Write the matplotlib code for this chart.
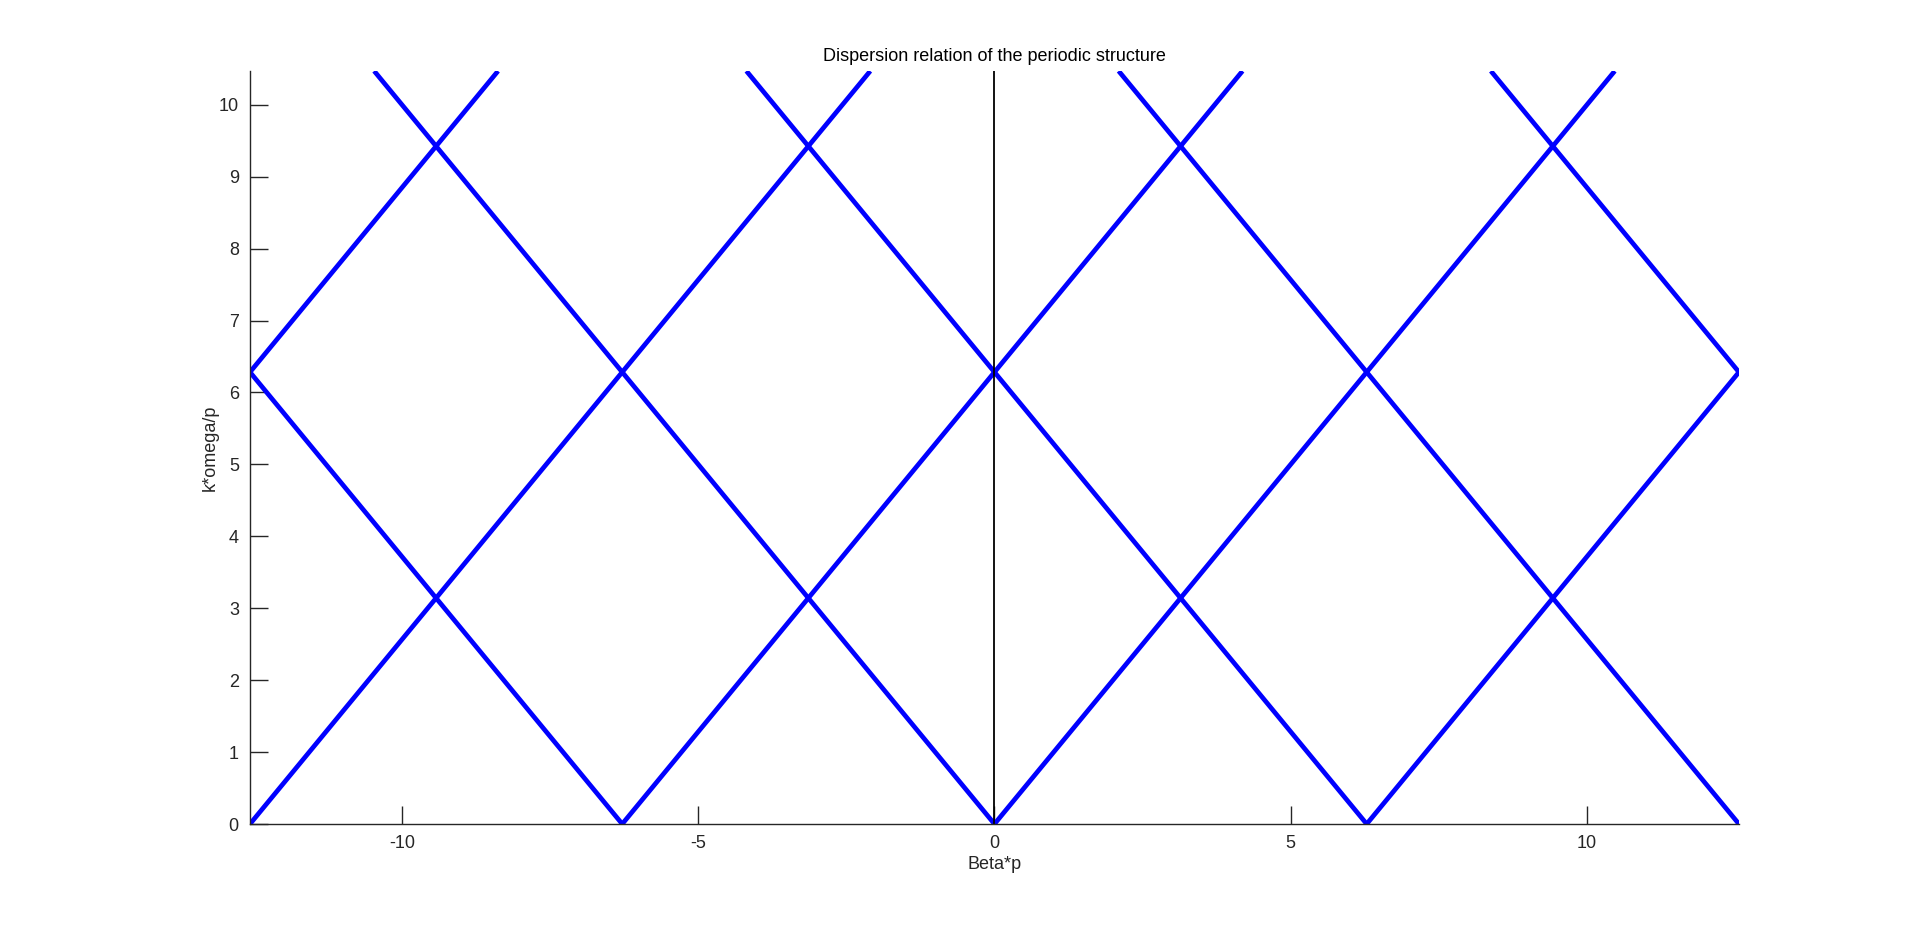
import numpy as np
import matplotlib
matplotlib.use('agg')
import matplotlib.pyplot as plt

# dispersion branches: beta*p = +/- k*p + 2*pi*n
kp_range = [0.0, 10.47]          # k*omega/p span of each branch
branch_n = [-3, -2, -1, 0, 1, 2, 3]
branch_sign = [1, -1]
beta_lim = [-4 * np.pi, 4 * np.pi]
x_ticks = [-10, -5, 0, 5, 10]
y_ticks = [0, 1, 2, 3, 4, 5, 6, 7, 8, 9, 10]

plt.rcParams['font.family'] = ['Liberation Sans', 'DejaVu Sans']
plt.rcParams['axes.unicode_minus'] = False
txt = '#262626'
fs = 13

fig = plt.figure(figsize=(19.2, 9.27), dpi=100)
ax = fig.add_axes([0.1302, 0.1111, 0.7755, 0.8123])

kp = np.array(kp_range)
for s in branch_sign:
    for n in branch_n:
        ax.plot(s * kp + 2 * np.pi * n, kp, color='#0000ff', lw=3.4,
                solid_capstyle='butt', solid_joinstyle='miter')

# vertical line at beta = 0
ax.plot([0, 0], kp_range, color='k', lw=1.3)

ax.set_xlim(beta_lim)
ax.set_ylim(kp_range)
ax.set_xticks(x_ticks)
ax.set_yticks(y_ticks)
ax.spines['top'].set_visible(False)
ax.spines['right'].set_visible(False)
for sp in ['left', 'bottom']:
    ax.spines[sp].set_color(txt)
    ax.spines[sp].set_linewidth(1.0)
ax.tick_params(direction='in', length=13, width=1.0, colors=txt, labelsize=fs, pad=8)

ax.set_title('Dispersion relation of the periodic structure', fontsize=fs, color='k', pad=7)
ax.set_xlabel('Beta*p', fontsize=fs, color=txt, labelpad=3)
ax.set_ylabel('k*omega/p', fontsize=fs, color=txt, labelpad=0)

fig.savefig('out.png', dpi=100)
